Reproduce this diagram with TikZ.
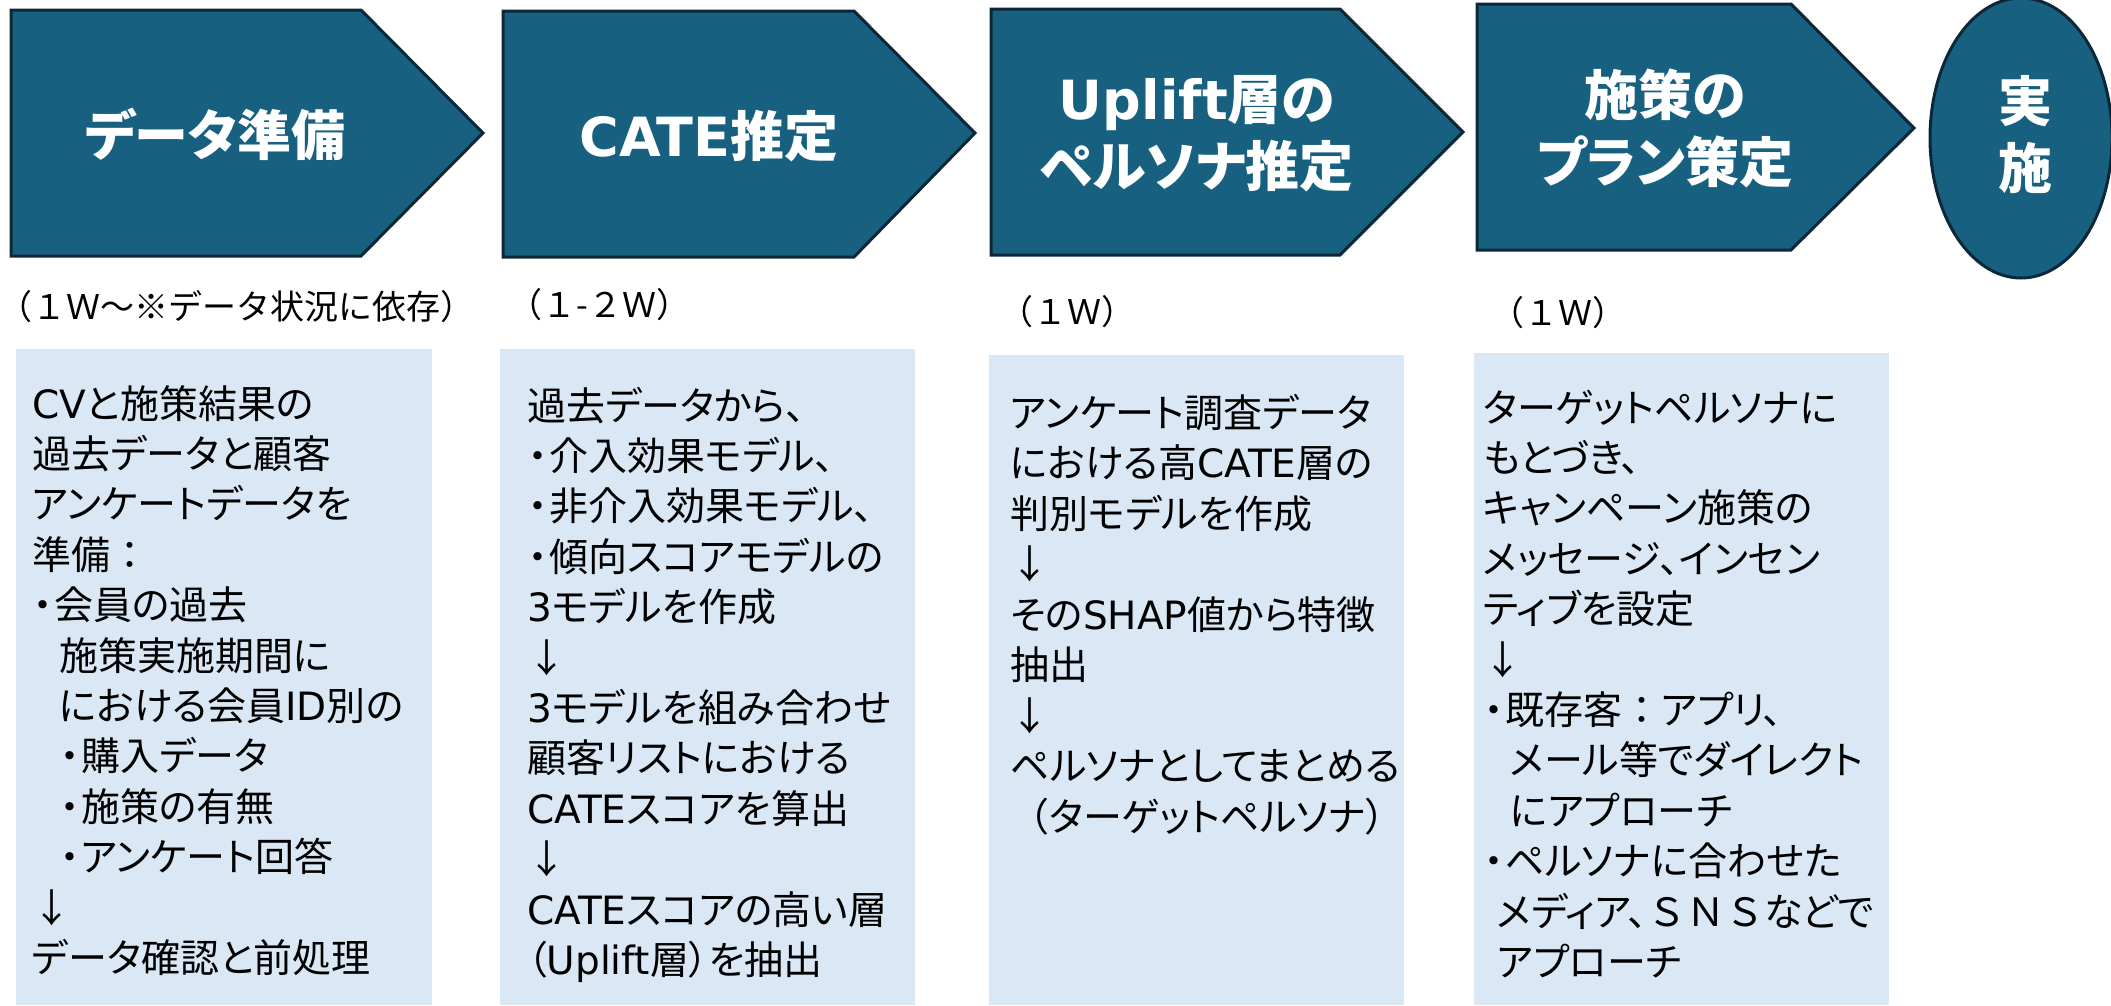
\documentclass[tikz,border=0pt]{standalone}
\usepackage{fontspec}
\setmainfont{Noto Sans CJK JP}[RawFeature=+palt]
\newfontfamily\jpfull{Noto Sans CJK JP}
\newfontfamily\latfont{DejaVu Sans}
\newcommand\latw[1]{{\latfont #1}}
\newcommand\bul{\makebox[22pt][c]{・}}
\newcommand\fcolon{{\jpfull ：}}
\newcommand\ttlfont{\bfseries\fontsize{54}{67}\selectfont}
\newcommand\bdyfont{\fontsize{39}{50}\selectfont}
\newcommand\drfont{\jpfull\fontsize{34}{40}\selectfont}
\definecolor{stepfill}{HTML}{186080}
\definecolor{stepline}{HTML}{0C2838}
\definecolor{boxfill}{HTML}{DAE8F5}
\begin{document}
\begin{tikzpicture}[x=1pt,y=-1pt,
  stepshape/.style={fill=stepfill, draw=stepline, line width=3pt, line join=miter},
  infobox/.style={fill=boxfill, draw=none},
  title/.style={text=white, font=\ttlfont, align=center, inner sep=0pt},
  dur/.style={anchor=west, inner sep=0pt, font=\drfont},
  body/.style={anchor=base west, inner sep=0pt, font=\bdyfont}]
\useasboundingbox (0,0) rectangle (2111,1005);
% step shapes
\draw[stepshape] (11,10) -- (361,10) -- (483,133) -- (361,256) -- (11,256) -- cycle;
\draw[stepshape] (503,11) -- (854,11) -- (975,133) -- (854,257) -- (503,257) -- cycle;
\draw[stepshape] (991,9) -- (1340,9) -- (1463,132) -- (1340,255) -- (991,255) -- cycle;
\draw[stepshape] (1477,4) -- (1791,4) -- (1914,128) -- (1791,250) -- (1477,250) -- cycle;
\draw[stepshape] (2021,138) ellipse [x radius=91, y radius=140];
% titles
\node[title] (t1) at (215,134) {データ準備};
\node[title] (t2) at (709,136) {\latw{CATE}推定};
\node[title] (t3) at (1197,134) {\latw{Uplift}層の\\ペルソナ推定};
\node[title] (t4) at (1665,128) {施策の\\プラン策定};
\node[title] (t5) at (2025,135) {実\\施};
% durations
\node[dur] (d1) at (-2,307) {（１Ｗ～※データ状況に依存）};
\node[dur] (d2) at (508,305) {（１-２Ｗ）};
\node[dur] (d3) at (999,312) {（１Ｗ）};
\node[dur] (d4) at (1490,313) {（１Ｗ）};
% info boxes
\fill[infobox] (16,349) rectangle (432,1005);
\fill[infobox] (500,349) rectangle (915,1005);
\fill[infobox] (989,355) rectangle (1404,1005);
\fill[infobox] (1474,353) rectangle (1889,1005);
% box 1 text
\foreach \t [count=\i] in {
  {\latw{CV}と施策結果の},
  過去データと顧客,
  アンケートデータを,
  {準備\fcolon},
  {\bul 会員の過去},
  {\hspace*{27pt}施策実施期間に},
  {\hspace*{27pt}における会員\latw{ID}別の},
  {\hspace*{27pt}\bul 購入データ},
  {\hspace*{27pt}\bul 施策の有無},
  {\hspace*{27pt}\bul アンケート回答},
  ↓,
  データ確認と前処理}
  \node[body] (ba\i) at (32,{418+50.4*(\i-1)}) {\t};
% box 2 text
\foreach \t [count=\i] in {
  過去データから、,
  {\bul 介入効果モデル、},
  {\bul 非介入効果モデル、},
  {\bul 傾向スコアモデルの},
  {\latw{3}モデルを作成},
  ↓,
  {\latw{3}モデルを組み合わせ},
  顧客リストにおける,
  {\latw{CATE}スコアを算出},
  ↓,
  {\latw{CATE}スコアの高い層},
  {（\latw{Uplift}層）を抽出}}
  \node[body] (bb\i) at (527,{420+50.4*(\i-1)}) {\t};
% box 3 text
\foreach \t [count=\i] in {
  アンケート調査データ,
  {における高\latw{CATE}層の},
  判別モデルを作成,
  ↓,
  {その\latw{SHAP}値から特徴},
  抽出,
  ↓,
  ペルソナとしてまとめる,
  {{\jpfull （}ターゲットペルソナ）}}
  \node[body] (bc\i) at (1010,{427+50.5*(\i-1)}) {\t};
% box 4 text
\foreach \t [count=\i] in {
  ターゲットペルソナに,
  もとづき、,
  キャンペーン施策の,
  メッセージ、インセン,
  ティブを設定,
  ↓,
  {\bul 既存客\fcolon アプリ、},
  {\hspace*{27pt}メール等でダイレクト},
  {\hspace*{27pt}にアプローチ},
  {\bul ペルソナに合わせた},
  {\hspace*{14pt}メディア、{\jpfull ＳＮＳ}などで},
  {\hspace*{14pt}アプローチ}}
  \node[body] (bd\i) at (1483,{422+50.4*(\i-1)}) {\t};
\end{tikzpicture}
\end{document}
